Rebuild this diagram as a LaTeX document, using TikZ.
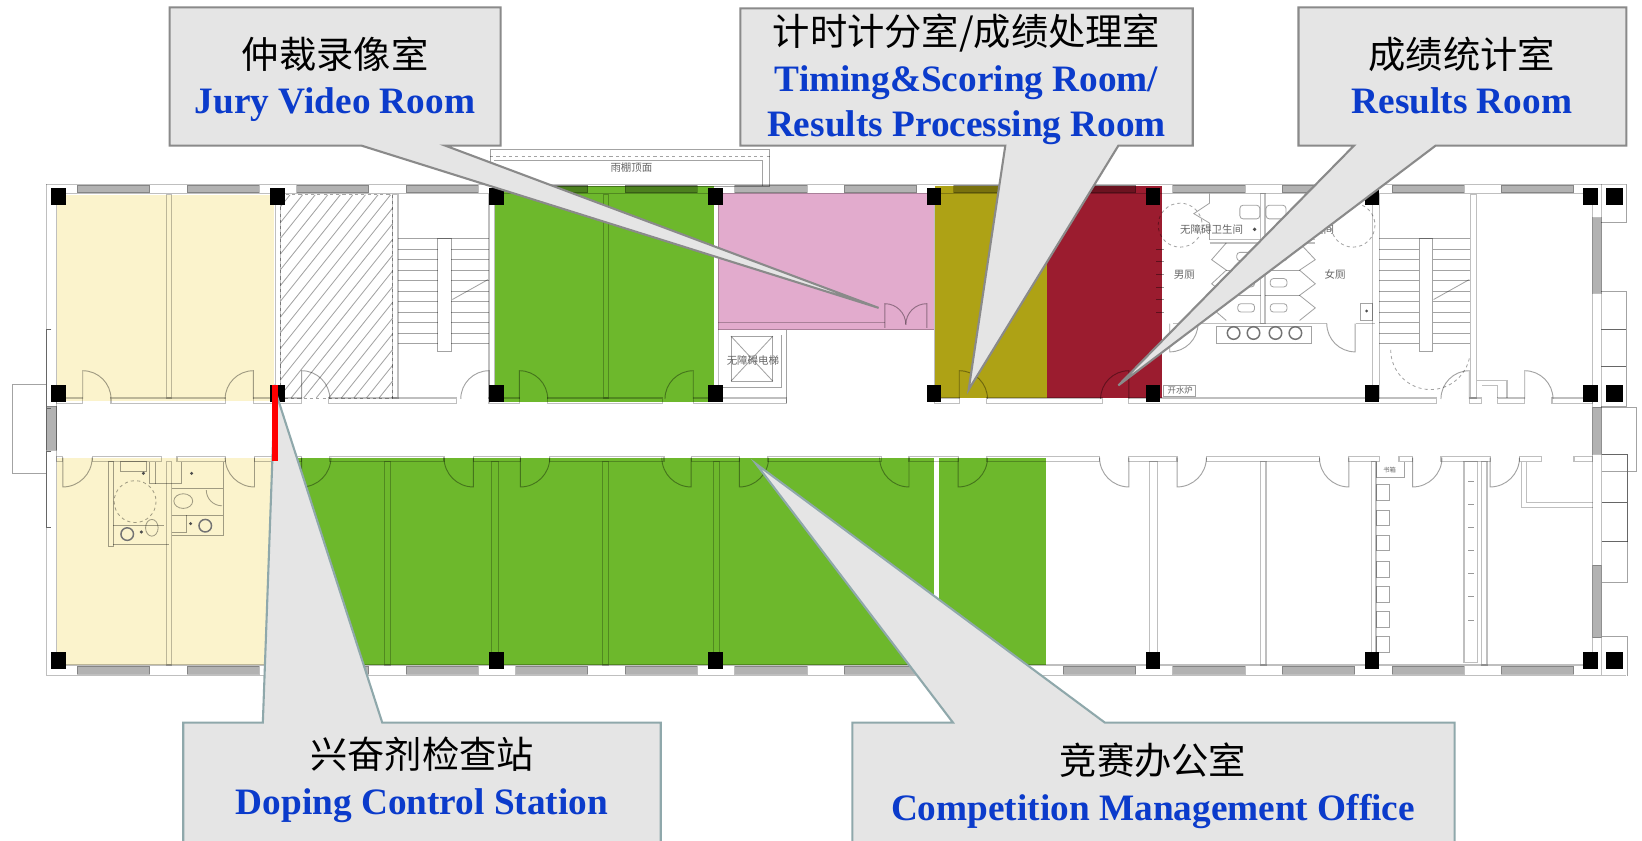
\documentclass[tikz,border=0pt]{standalone}
\usepackage{fontspec}
\setmainfont{Liberation Serif}
\newfontfamily\cjkfont{Noto Sans CJK SC}
\usepackage{tikz}
\usetikzlibrary{arrows,positioning}
\definecolor{roomgreen}{HTML}{6DB82C}
\definecolor{roomyellow}{HTML}{FBF3CC}
\definecolor{roompink}{HTML}{E2ABCD}
\definecolor{roomolive}{HTML}{AEA215}
\definecolor{roomred}{HTML}{9B1C2F}
\definecolor{boxgrey}{HTML}{E5E5E5}
\definecolor{edgegrey}{HTML}{8A8A8A}
\definecolor{edgeteal}{HTML}{8FA8AB}
\definecolor{labelblue}{HTML}{0B3BCB}
\tikzset{
    wallline/.style={draw=black,draw opacity=0.25,line width=1.1pt},
    thinline/.style={draw=black,draw opacity=0.36,line width=0.8pt},
    doorline/.style={draw=black,draw opacity=0.36,line width=0.9pt},
    windowband/.style={fill=black,fill opacity=0.3,draw=black,draw opacity=0.25,line width=0.8pt},
    columnbox/.style={fill=black},
    calloutgrey/.style={fill=boxgrey,draw=edgegrey,line width=2pt},
    calloutteal/.style={fill=boxgrey,draw=edgeteal,line width=2pt},
    roomlabel/.style={align=center,inner sep=0pt,font=\fontsize{35.6}{43.5}\selectfont},
    planlabel/.style={inner sep=0pt,text=black!60,font=\cjkfont\fontsize{10}{10}\selectfont}
}
\begin{document}
\begin{tikzpicture}[x=1pt,y=-1pt]
    \clip (0,0) rectangle (1568,803);
    \fill[white] (0,0) rectangle (1568,803);

    % coloured rooms
    \fill[roomyellow] (54,186) rectangle (262,383);
    \fill[roomyellow] (54,437) rectangle (262,635);
    \fill[roomgreen] (473,178) rectangle (682,384);
    \fill[roomgreen] (262,437) rectangle (999,635);
    \fill[roompink] (686,184) rectangle (892,315);
    \fill[roomolive] (893,178) rectangle (1000,380);
    \fill[roomred] (1000,178) rectangle (1110,380);
    \fill[white] (892,437) rectangle (897,635);

    % roof box and entrance boxes
    \draw[thinline] (468,143) rectangle (735,178);
    \draw[thinline,dashed] (468,149) -- (735,149);
    \draw[thinline] (472,153) -- (728,153) -- (728,178);
    \node[planlabel] (rooflabel) at (603,160) {雨棚顶面};
    \draw[thinline] (44,367) -- (12,367) -- (12,452) -- (44,452);

    % hatched room
    \begin{scope}
        \clip (268,186) rectangle (375,380);
        \foreach \a in {110,122,...,380}
            \draw[thinline] (\a,380) -- (\a+155,186);
    \end{scope}
    \draw[thinline,dashed] (268,186) -- (268,380) -- (375,380) -- (375,186) -- cycle;

    % outer walls and windows
    \draw[wallline] (44,176) -- (1553,176);
    \draw[wallline] (54,185) -- (1521,185);
    \draw[wallline] (44,645) -- (1553,645);
    \draw[wallline] (54,635) -- (1521,635);
    \draw[wallline] (44,176) -- (44,645);
    \draw[wallline] (54,185) -- (54,635);
    \draw[wallline] (1521,185) -- (1521,635);
    \draw[wallline] (1529,176) -- (1529,645);
    \foreach \a in {74,178.6,...,1450} {
        \fill[windowband] (\a,177) rectangle (\a+69,184);
        \fill[windowband] (\a,636) rectangle (\a+69,644);
    }
    \fill[windowband] (1521,208) rectangle (1529,280);
    \fill[windowband] (1521,389) rectangle (1529,434);
    \fill[windowband] (1521,540) rectangle (1529,609);
    \fill[windowband] (44,388) rectangle (54,430);
    \draw[black!60,line width=1pt] (49,315) -- (44,315) -- (44,390) -- (49,390);
    \draw[black!60,line width=1pt] (49,431) -- (44,431) -- (44,504) -- (49,504);
    \draw[thinline] (1529,212) -- (1553,212) -- (1553,176);
    \draw[thinline] (1529,278) -- (1553,278) -- (1553,388) -- (1529,388);
    \draw[black!60,line width=1pt] (1529,315) -- (1553,315);
    \draw[black!60,line width=1pt] (1529,350) -- (1553,350);
    \draw[thinline] (1529,389) -- (1563,389) -- (1563,450) -- (1530,450);
    \draw[black!60,line width=1pt] (1530,434) -- (1554,434) -- (1554,517) -- (1530,517);
    \draw[black!60,line width=1pt] (1530,480) -- (1554,480);
    \draw[thinline] (1554,517) -- (1554,556) -- (1530,556);
    \draw[thinline] (1530,608) -- (1554,608) -- (1554,646);

    % corridor walls
    \foreach \a/\b in {54/79,106/215,242/288,314/436,467/496,523/633,662/751,892/916,942/1053,1078/1372,1403/1415,1430/1456,1482/1521}
        \draw[wallline] (\a,380) rectangle (\b,385);
    \foreach \a/\b in {54/60,88/154,169/215,243/288,315/424,452/497,525/634,660/706,733/842,868/915,942/1050,1078/1124,1152/1260,1288/1317,1336/1349,1376/1423,1451/1472,1503/1521}
        \draw[wallline] (\a,436) rectangle (\b,441);

    % room partitions
    \foreach \a/\b in {159/164,263/268,375/380,467/472,576/581,1311/1317,1404/1410}
        \draw[wallline] (\a,186) rectangle (\b,380);
    \foreach \a/\b in {159/164,367/373,469/476,575/581,681/687,1098/1105,1204/1209,1310/1314,1415/1420}
        \draw[wallline] (\a,441) rectangle (\b,635);
    \draw[wallline] (1453,441) -- (1453,485) -- (1521,485);
    \draw[wallline] (1458,441) -- (1458,480) -- (1521,480);
    \draw[wallline] (1398,441) rectangle (1411,633);
    \foreach \a in {463,487,511,536,560,584,608}
        \draw[thinline] (1314,\a) rectangle (1327,\a+15);
    \draw[thinline] (1314,441) -- (1314,456) -- (1341,456) -- (1341,441);
    \node[planlabel,font=\cjkfont\fontsize{6}{6}\selectfont] (boxlabel) at (1327,449) {书箱};
    \foreach \a in {460,482,...,610}
        \draw[black!40,line width=0.8pt] (1402,\a) -- (1408,\a);
    \draw[wallline] (1410,363) -- (1439,363) -- (1439,380);
    \draw[wallline] (1415,368) -- (1430,368) -- (1430,380);

    % pink room and lift
    \draw[wallline] (686,308) -- (845,308);
    \draw[wallline] (686,315) -- (892,315);
    \draw[wallline] (892,186) -- (892,380);
    \draw[wallline] (686,186) -- (686,380);
    \draw[thinline] (751,315) -- (751,385);
    \draw[thinline] (698,321) rectangle (738,364);
    \draw[thinline] (698,321) -- (738,364);
    \draw[thinline] (698,364) -- (738,321);
    \draw[thinline] (686,370) -- (746,370) -- (746,320);
    \node[planlabel] (liftlabel) at (719,344) {无障碍电梯};

    % doors
    \foreach \h/\e in {79/0,242/-180,288/0,467/-180,496/0,662/-180,916/0,1078/-180,1403/-180,1456/0}
        \draw[doorline] (\h,381) -- ++(0,-27) arc[start angle=-90,end angle=\e,radius=27];
    \foreach \h/\e in {60/0,243/180,288/0,452/180,497/0,660/180,706/0,868/180,915/0,1078/180,1124/0,1288/180,1349/0,1423/0}
        \draw[doorline] (\h,437) -- ++(0,28) arc[start angle=90,end angle=\e,radius=28];
    \draw[doorline] (845,313) -- (845,290) arc[start angle=-90,end angle=0,radius=20];
    \draw[doorline] (885,313) -- (885,290) arc[start angle=-90,end angle=-180,radius=20];
    \draw[doorline] (1117,309) -- (1117,336) arc[start angle=90,end angle=0,radius=27];
    \draw[doorline] (1294,309) -- (1294,336) arc[start angle=90,end angle=180,radius=27];

    % stairs
    \foreach \a in {228,238,...,330} {
        \draw[thinline] (380,\a) -- (467,\a);
        \draw[thinline] (1317,\a) -- (1404,\a);
    }
    \draw[thinline,fill=white] (418,228) rectangle (431,336);
    \draw[thinline,fill=white] (1355,228) rectangle (1368,336);
    \draw[thinline] (432,286) -- (466,267);
    \draw[thinline] (1369,286) -- (1403,267);
    \draw[thinline,dashed] (1328,334) arc[start angle=180,end angle=10,radius=38];

    % toilets upper
    \draw[wallline] (1204,185) rectangle (1208,309);
    \draw[wallline] (1155,229) -- (1256,229);
    \draw[wallline] (1155,232) -- (1256,232);
    \draw[thinline] (1155,185) -- (1155,194) -- (1140,204) -- (1155,213) -- (1155,229);
    \draw[thinline,dashed] (1127,215) circle[radius=21];
    \draw[thinline,dashed] (1292,215) circle[radius=21];
    \draw[thinline,rounded corners=3pt] (1184,196) rectangle (1203,209);
    \draw[thinline,rounded corners=3pt] (1209,196) rectangle (1228,209);
    \foreach \a/\b in {1189/245,1190/270,1190/294,1221/245,1221/270,1221/294}
        \draw[thinline,rounded corners=3pt] (\a-8,\b-4) rectangle (\a+8,\b+4);
    \foreach \a in {258,282} {
        \draw[thinline] (1171,\a) -- (1204,\a);
        \draw[thinline] (1208,\a) -- (1241,\a);
    }
    \draw[thinline] (1171,232) -- (1157,248) -- (1171,258) -- (1157,271) -- (1171,282) -- (1157,294) -- (1171,306);
    \draw[thinline] (1241,232) -- (1256,248) -- (1241,258) -- (1256,271) -- (1241,282) -- (1256,294) -- (1241,306);
    \draw[wallline] (1120,309) -- (1267,309);
    \draw[wallline] (1295,309) -- (1313,309);
    \draw[thinline] (1162,312) rectangle (1252,328);
    \foreach \a in {1178,1197,1218,1237}
        \draw[black!55,line width=1.4pt] (\a,318) circle[radius=6];
    \draw[thinline] (1299,290) rectangle (1311,306);
    \fill[black!70] (1305,297) circle[radius=1.5];
    \fill[black!70] (1198,219) circle[radius=1.8];
    \draw[thinline] (1111,368) rectangle (1142,379);
    \node[planlabel,font=\cjkfont\fontsize{8}{8}\selectfont] (boilerlabel) at (1127,373) {开水炉};
    \foreach \a in {238,250,...,300}
        \draw[black,draw opacity=0.4,line width=0.8pt] (1104,\a) -- (1112,\a);
    \node[planlabel] (toiletlabel) at (1157,219) {无障碍卫生间};
    \node[planlabel] (toiletlabeltwo) at (1259,219) {卫生间};
    \node[planlabel] (menlabel) at (1131,262) {男厕};
    \node[planlabel] (womenlabel) at (1275,262) {女厕};

    % toilets lower
    \draw[thinline] (104,441) rectangle (108,522);
    \draw[thinline] (108,520) -- (161,520);
    \draw[thinline] (115,441) rectangle (140,450);
    \draw[thinline] (143,441) -- (143,462) -- (173,462) -- (173,441);
    \draw[thinline] (148,441) -- (148,462);
    \draw[thinline,dashed] (129,479) circle[radius=20];
    \draw[thinline] (108,502) -- (157,502);
    \draw[black!55,line width=1.4pt] (121.5,510) circle[radius=6];
    \draw[thinline] (145,504) ellipse[x radius=6,y radius=8];
    \fill[black!70] (135,508) circle[radius=1.6];
    \fill[black!70] (137,452) circle[radius=1.6];
    \fill[black!70] (183,452) circle[radius=1.6];
    \draw[thinline] (164,466) -- (213,466);
    \draw[thinline] (213,441) -- (213,511) -- (164,511);
    \draw[thinline] (175,478.5) ellipse[x radius=9,y radius=7];
    \draw[thinline] (197,468) arc[start angle=180,end angle=90,radius=15];
    \draw[thinline] (164,492) -- (213,492);
    \draw[thinline] (178,492) -- (178,508) -- (164,508);
    \draw[black!55,line width=1.4pt] (196,502) circle[radius=6];
    \fill[black!70] (182,500) circle[radius=1.6];

    % columns
    \foreach \a in {56,265,474,683,892,1101,1310,1519}
        \foreach \b in {188,376}
            \fill[columnbox] (\a-7,\b-8) rectangle (\a+7,\b+8);
    \foreach \b in {188,376,631}
        \fill[columnbox] (1534,\b-8) rectangle (1550,\b+8);
    \foreach \a in {56,474,683,1101,1310,1519}
        \fill[columnbox] (\a-7,623) rectangle (\a+7,639);

    % callouts
    \coordinate (jurypoint) at (839,294);
    \coordinate (timingpoint) at (925,372);
    \coordinate (resultspoint) at (1068,368);
    \coordinate (dopingpoint) at (262.5,372);
    \coordinate (officepoint) at (722,443);
    \draw[calloutgrey] (162,7) -- (478,7) -- (478,139) -- (425,139) -- (jurypoint) -- (345,139) -- (162,139) -- cycle;
    \draw[calloutgrey] (707,8) -- (1139,8) -- (1139,139) -- (1068,139) -- (timingpoint) -- (960,139) -- (707,139) -- cycle;
    \draw[calloutgrey] (1240,7) -- (1553,7) -- (1553,139) -- (1371,139) -- (resultspoint) -- (1293,139) -- (1240,139) -- cycle;
    \draw[calloutteal] (175,815) -- (175,690) -- (251,690) -- (dopingpoint) -- (365,690) -- (631,690) -- (631,815) -- cycle;
    \draw[calloutteal] (814,815) -- (814,690) -- (910,690) -- (officepoint) -- (1055,690) -- (1389,690) -- (1389,815) -- cycle;

    \fill[red] (260,368) rectangle (265.5,440);

    \node[roomlabel] (jurylabel) at (320,75.5) {{\cjkfont 仲裁录像室}\\{\color{labelblue}\bfseries Jury Video Room}};
    \node[roomlabel] (timinglabel) at (923,76) {{\cjkfont 计时计分室/成绩处理室}\\{\color{labelblue}\bfseries Timing\&Scoring Room/}\\{\color{labelblue}\bfseries Results Processing Room}};
    \node[roomlabel] (resultslabel) at (1396,72) {{\cjkfont 成绩统计室}\\{\color{labelblue}\bfseries Results Room}};
    \node[roomlabel] (dopinglabel) at (403,744.5) {{\cjkfont 兴奋剂检查站}\\{\color{labelblue}\bfseries Doping Control Station}};
    \node[roomlabel] (officelabel) at (1101,750.5) {{\cjkfont 竞赛办公室}\\{\color{labelblue}\bfseries Competition Management Office}};
\end{tikzpicture}
\end{document}
